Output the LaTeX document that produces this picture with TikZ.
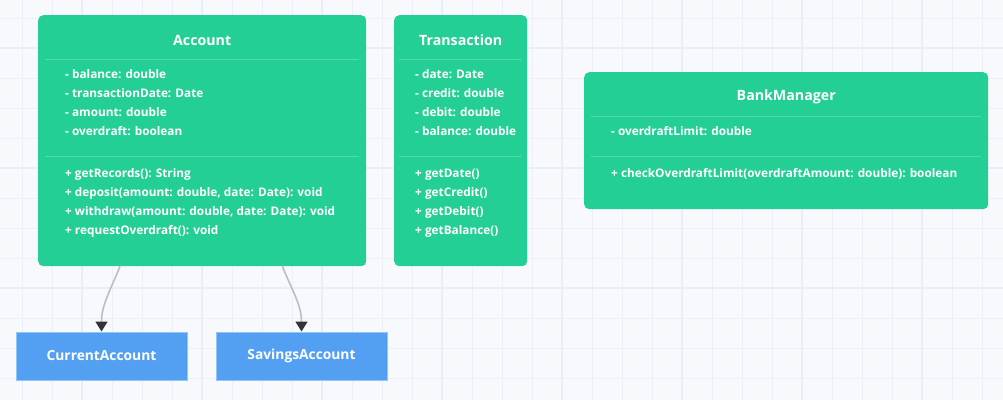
\documentclass[tikz,border=0pt]{standalone}
\usepackage{fontspec}
\setmainfont{Open Sans}
\usepackage{xcolor}
\usetikzlibrary{arrows.meta,positioning}
\definecolor{canvasbg}{HTML}{F8F9FD}
\definecolor{gridminor}{HTML}{EEEFF9}
\definecolor{gridmajor}{HTML}{EBECF9}
\definecolor{classgreen}{HTML}{24CF96}
\definecolor{classsep}{HTML}{4FD8A9}
\definecolor{subblue}{HTML}{53A0F2}
\definecolor{subedge}{HTML}{93C6F8}
\definecolor{edgegray}{HTML}{BCBDC6}
\definecolor{tipdark}{HTML}{333333}
\tikzset{
  cbox/.style={rectangle, rounded corners=5pt, fill=classgreen,
               anchor=north west, inner sep=0pt},
  ctitle/.style={font=\fontsize{14.2}{17}\selectfont\bfseries, text=white},
  cmember/.style={font=\fontsize{11.8}{19}\selectfont\bfseries, text=white,
                  align=left, anchor=north west, inner sep=0pt},
  csep/.style={classsep, line width=1pt},
  subbox/.style={rectangle, fill=subblue, draw=subedge, line width=1pt,
                 minimum width=171, minimum height=48,
                 font=\fontsize{13.8}{16}\selectfont\bfseries, text=white},
  genarr/.style={-{Triangle[length=10pt, width=12pt, color=tipdark]},
                 edgegray, line width=1.6pt},
  gline/.style={gridminor, line width=1pt},
  gmajor/.style={gridmajor, line width=2.5pt}
}
\begin{document}
\begin{tikzpicture}[x=1pt, y=-1pt]
\useasboundingbox (0,0) rectangle (1003,400);
% canvas grid
\fill[canvasbg] (0,0) rectangle (1003,400);
\foreach \gx in {22,52,...,1002} \draw[gline] (\gx,0) -- (\gx,400);
\foreach \gy in {18,48,...,398} \draw[gline] (0,\gy) -- (1003,\gy);
\foreach \gx in {82,202,...,962} \draw[gmajor] (\gx,0) -- (\gx,400);
\foreach \gy in {48,168,288} \draw[gmajor] (0,\gy) -- (1003,\gy);

% Account
\node[cbox, minimum width=328, minimum height=251] (account) at (38,15) {};
\node[ctitle] (accounttitle) at ([yshift=-25pt]account.north) {Account};
\draw[csep] ([xshift=7pt,yshift=-44pt]account.north west)
  -- ([xshift=-7pt,yshift=-44pt]account.north east);
\node[cmember] (accountattrs) at ([xshift=27pt,yshift=-54.5pt]account.north west)
  {- balance: double\\- transactionDate: Date\\- amount: double\\- overdraft: boolean};
\draw[csep] ([xshift=7pt,yshift=-141pt]account.north west)
  -- ([xshift=-7pt,yshift=-141pt]account.north east);
\node[cmember] (accountops) at ([xshift=27pt,yshift=-153.5pt]account.north west)
  {+ getRecords(): String\\+ deposit(amount: double, date: Date): void\\
   + withdraw(amount: double, date: Date): void\\+ requestOverdraft(): void};

% Transaction
\node[cbox, minimum width=133, minimum height=251] (trans) at (394,15) {};
\node[ctitle] (transtitle) at ([yshift=-25pt]trans.north) {Transaction};
\draw[csep] ([xshift=5pt,yshift=-44pt]trans.north west)
  -- ([xshift=-5pt,yshift=-44pt]trans.north east);
\node[cmember] (transattrs) at ([xshift=21pt,yshift=-54.5pt]trans.north west)
  {- date: Date\\- credit: double\\- debit: double\\- balance: double};
\draw[csep] ([xshift=5pt,yshift=-141pt]trans.north west)
  -- ([xshift=-5pt,yshift=-141pt]trans.north east);
\node[cmember] (transops) at ([xshift=21pt,yshift=-153.5pt]trans.north west)
  {+ getDate()\\+ getCredit()\\+ getDebit()\\+ getBalance()};

% BankManager
\node[cbox, minimum width=404, minimum height=137] (manager) at (584,72) {};
\node[ctitle] (managertitle) at ([yshift=-25pt]manager.north) {BankManager};
\draw[csep] ([xshift=7pt,yshift=-44pt]manager.north west)
  -- ([xshift=-7pt,yshift=-44pt]manager.north east);
\node[cmember] (managerattrs) at ([xshift=27pt,yshift=-54.5pt]manager.north west)
  {- overdraftLimit: double};
\draw[csep] ([xshift=7pt,yshift=-84pt]manager.north west)
  -- ([xshift=-7pt,yshift=-84pt]manager.north east);
\node[cmember] (managerops) at ([xshift=27pt,yshift=-96.5pt]manager.north west)
  {+ checkOverdraftLimit(overdraftAmount: double): boolean};

% subclasses
\node[subbox] (current) at (101.5,356) {CurrentAccount};
\node[subbox, right=28pt of current] (savings) {SavingsAccount};

\draw[genarr] ([xshift=82pt]account.south west) to[out=-112, in=90] (current.north);
\draw[genarr] ([xshift=-84pt]account.south east) to[out=-68, in=90] (savings.north);
\end{tikzpicture}
\end{document}
